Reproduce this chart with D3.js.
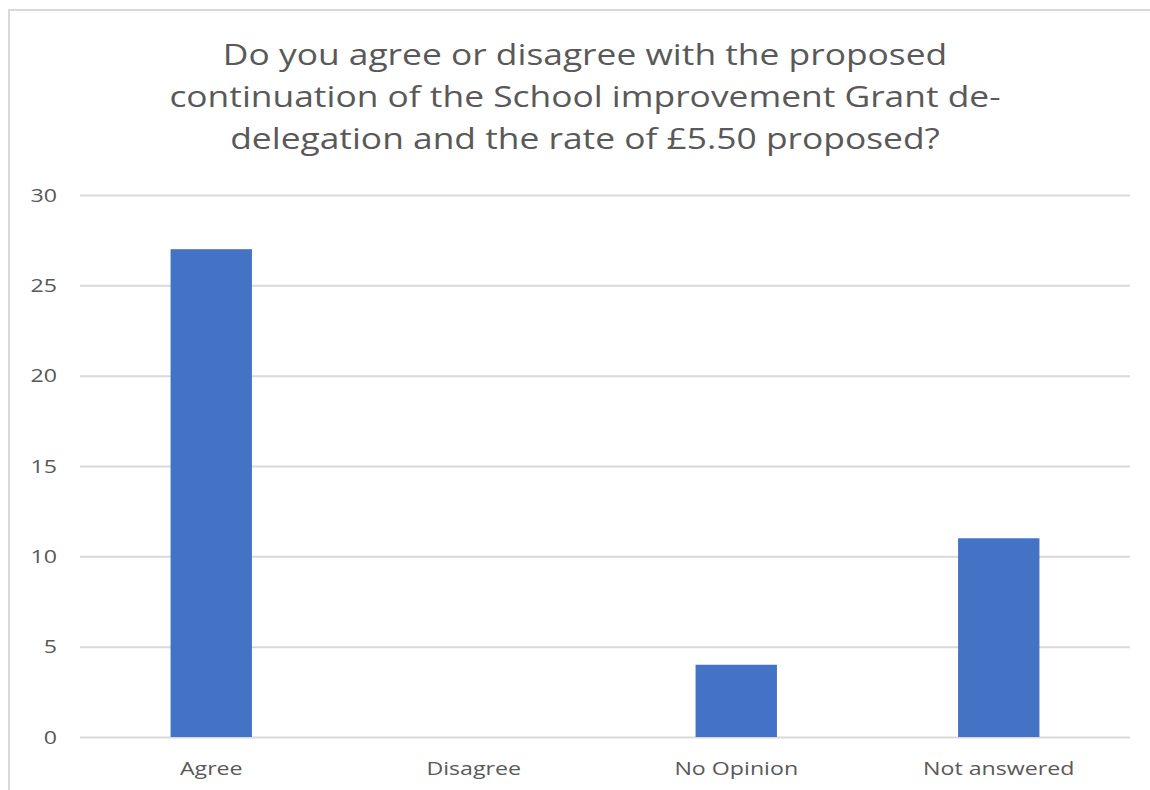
<!DOCTYPE html>
<html>
<head>
<meta charset="utf-8">
<script src="https://cdn.jsdelivr.net/npm/d3@7"></script>
<style>
  html, body { margin: 0; padding: 0; background: #fff; }
  svg { display: block; }
  text { font-family: "Open Sans", "Noto Sans", sans-serif; fill: #595959; }
</style>
</head>
<body>
<svg id="chart" width="1150" height="790"></svg>
<script>
// Survey responses
const categories = ["Agree", "Disagree", "No Opinion", "Not answered"];
const counts = [27, 0, 4, 11];
const yTicks = [0, 5, 10, 15, 20, 25, 30];
const titleLines = [
  "Do you agree or disagree with the proposed",
  "continuation of the School improvement Grant de-",
  "delegation and the rate of £5.50 proposed?"
];

const svg = d3.select("#chart");
const W = 1150, H = 790;
const plot = { left: 80, right: 1130, top: 195, bottom: 737 };
const stretch = 1.22; // horizontal widening of all lettering

// chart area frame (left and top edges)
svg.append("path")
  .attr("d", `M9,${H} V10 H${W}`)
  .attr("fill", "none")
  .attr("stroke", "#d9d9d9")
  .attr("stroke-width", 2);

// title
titleLines.forEach((line, i) => {
  svg.append("text")
    .attr("text-anchor", "middle")
    .attr("transform", `translate(585,${65 + i * 42}) scale(${stretch},1)`)
    .style("font-size", "29px")
    .text(line);
});

const x = d3.scaleBand()
  .domain(categories)
  .range([plot.left, plot.right])
  .paddingInner(0)
  .paddingOuter(0);

const y = d3.scaleLinear()
  .domain([0, 30])
  .range([plot.bottom, plot.top]);

// gridlines + y tick labels
const yAxis = d3.axisLeft(y)
  .tickValues(yTicks)
  .tickSize(-(plot.right - plot.left))
  .tickPadding(23)
  .tickFormat(d3.format("d"));

const gy = svg.append("g")
  .attr("transform", `translate(${plot.left},0)`)
  .call(yAxis);
gy.select(".domain").remove();
gy.selectAll(".tick line")
  .attr("stroke", "#d9d9d9")
  .attr("stroke-width", 2);
gy.selectAll(".tick text")
  .attr("x", 0)
  .attr("transform", `translate(-23,0) scale(${stretch},1)`)
  .style("font-size", "19px")
  .attr("fill", "#595959");

// bars
const barW = x.bandwidth() * 0.31;
svg.append("g")
  .selectAll("rect")
  .data(categories.map((c, i) => ({ c, v: counts[i] })))
  .join("rect")
  .attr("x", d => x(d.c) + (x.bandwidth() - barW) / 2)
  .attr("y", d => y(d.v))
  .attr("width", barW)
  .attr("height", d => y(0) - y(d.v))
  .attr("fill", "#4472c4");

// category axis
const xAxis = d3.axisBottom(x).tickSize(0).tickPadding(25);
const gx = svg.append("g")
  .attr("transform", `translate(0,${plot.bottom})`)
  .call(xAxis);
gx.select(".domain").remove();
gx.selectAll(".tick text")
  .attr("transform", `scale(${stretch},1)`)
  .style("font-size", "19px")
  .attr("fill", "#595959");
</script>
</body>
</html>
